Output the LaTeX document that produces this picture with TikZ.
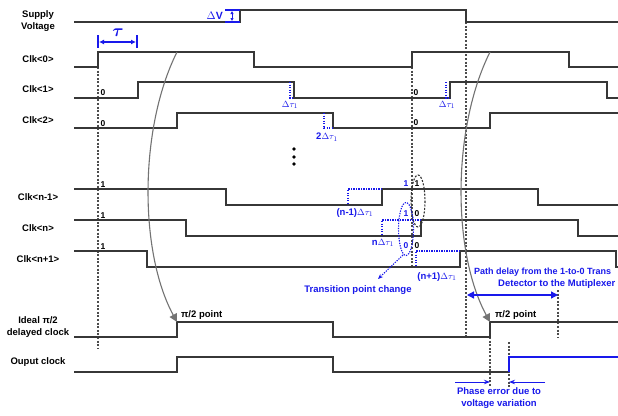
\documentclass[tikz,border=0pt]{standalone}
\usepackage{amsmath,bm}
\usepackage{fontspec}
\setmainfont{Liberation Sans}
\usetikzlibrary{arrows.meta,positioning,calc}
\definecolor{cWave}{RGB}{55,55,55}
\definecolor{cNote}{RGB}{25,25,235}
\definecolor{cCurve}{RGB}{115,115,115}
\tikzset{
  signame/.style={align=center,inner sep=0pt,
                  font=\fontsize{9.5}{11.5}\selectfont\bfseries},
  wave/.style={draw=cWave,line width=1.5pt},
  bluewave/.style={draw=cNote,line width=1.5pt},
  guide/.style={draw=black!70,line width=1.1pt,
                dash pattern=on 2pt off 1.6pt},
  bitlbl/.style={inner sep=0pt,font=\fontsize{8.5}{9}\selectfont\bfseries},
  bluebit/.style={bitlbl,text=cNote},
  shiftlbl/.style={inner sep=0pt,text=cNote,
                   font=\fontsize{9.5}{11}\selectfont\bfseries},
  shiftbox/.style={draw=cNote,line width=1.1pt,
                   dash pattern=on 1.3pt off 1.2pt},
  notetext/.style={align=center,inner sep=0pt,text=cNote,
                   font=\fontsize{9.5}{12}\selectfont\bfseries},
  pilbl/.style={anchor=west,inner sep=0pt,
                font=\fontsize{9.5}{11}\selectfont\bfseries},
  bluarr/.style={{Triangle[length=7pt,width=7pt]}-{Triangle[length=7pt,width=7pt]},
                 draw=cNote,line width=1.3pt},
  tauarr/.style={{Latex[length=5pt,width=5pt]}-{Latex[length=5pt,width=5pt]},
                 draw=cNote,line width=1.1pt},
  pharr/.style={-{Stealth[length=6pt,width=4.5pt]},draw=cNote,line width=1pt},
  curvarr/.style={-{Triangle[length=8pt,width=8pt]},draw=cCurve,line width=1.1pt}
}

\begin{document}
\begin{tikzpicture}[x=1pt,y=-1pt]
  \useasboundingbox (0,0) rectangle (618,415);
  \fill[white] (0,0) rectangle (618,415);

  % signal names
  \node[signame] (lblsupply) at (38,21) {Supply\\Voltage};
  \node[signame] (lblclk0) at (38,59) {Clk<0>};
  \node[signame] (lblclk1) at (38,89) {Clk<1>};
  \node[signame] (lblclk2) at (38,120) {Clk<2>};
  \node[signame] (lblclkm) at (38,197) {Clk<n-1>};
  \node[signame] (lblclkn) at (38,228) {Clk<n>};
  \node[signame] (lblclkp) at (38,259) {Clk<n+1>};
  \node[signame] (lblideal) at (38,327) {Ideal π/2\\delayed clock};
  \node[signame] (lblout) at (38,362) {Ouput clock};

  % guide lines
  \draw[guide] (98,67) -- (98,348);
  \draw[guide] (412,67) -- (412,267);
  \draw[guide] (466,22) -- (466,337);
  \draw[guide] (558,290) -- (558,338);
  \draw[guide] (490,337) -- (490,387);
  \draw[guide] (509,342) -- (509,387);

  % waveforms
  \draw[wave] (74,22) -- (240,22) -- (240,10) -- (466,10) -- (466,22) -- (618,22);
  \draw[wave] (74,67) -- (98,67) -- (98,52) -- (254,52) -- (254,67) -- (412,67)
              -- (412,52) -- (569,52) -- (569,67) -- (618,67);
  \draw[wave] (74,98) -- (138,98) -- (138,82) -- (294,82) -- (294,98) -- (450,98)
              -- (450,82) -- (607,82) -- (607,98) -- (618,98);
  \draw[wave] (74,128) -- (177,128) -- (177,113) -- (333,113) -- (333,128)
              -- (490,128) -- (490,113) -- (618,113);
  \draw[wave] (74,189) -- (226,189) -- (226,205) -- (382,205) -- (382,189)
              -- (538,189) -- (538,205) -- (618,205);
  \draw[wave] (74,220) -- (186,220) -- (186,236) -- (421,236) -- (421,220)
              -- (578,220) -- (578,236) -- (618,236);
  \draw[wave] (74,251) -- (147,251) -- (147,267) -- (460,267) -- (460,251)
              -- (616,251) -- (616,267) -- (618,267);
  \draw[wave] (74,337) -- (177,337) -- (177,322) -- (333,322) -- (333,337)
              -- (490,337) -- (490,322) -- (618,322);
  \draw[wave] (74,372) -- (177,372) -- (177,357) -- (333,357) -- (333,372) -- (509,372);
  \draw[bluewave] (509,372) -- (509,357) -- (618,357);

  % supply step and tau
  \draw[draw=cNote,line width=1.1pt] (225,10) -- (240,10) (225,22) -- (240,22);
  \draw[{Latex[length=3pt,width=3.5pt]}-{Latex[length=3pt,width=3.5pt]},
        draw=cNote,line width=1pt] (232,11) -- (232,21);
  \node[shiftlbl,anchor=east,font=\fontsize{10.5}{11}\selectfont\bfseries] (dv) at (223,16) {$\Delta$V};
  \draw[draw=cNote,line width=1.1pt] (98,35) -- (98,48) (137,35) -- (137,48);
  \coordinate (tauL) at (99,42);
  \coordinate (tauR) at (136,42);
  \draw[tauarr] (tauL) -- (tauR);
  \node[text=cNote,inner sep=0pt,font=\fontsize{16}{16}\selectfont] (tau) at (118,33) {$\bm{\tau}$};

  \foreach \y in {149,157,164}
    \fill (294,\y) circle (1.9);

  % bit values
  \node[bitlbl] (b1) at (103,93) {0};
  \node[bitlbl] (b2) at (103,124) {0};
  \node[bitlbl] (bm) at (103,185) {1};
  \node[bitlbl] (bn) at (103,216) {1};
  \node[bitlbl] (bp) at (103,247) {1};
  \node[bitlbl] (c1) at (416,93) {0};
  \node[bitlbl] (c2) at (416,123) {0};
  \node[bluebit] (dm) at (406,184) {1};
  \node[bitlbl] (cm) at (417,184) {1};
  \node[bluebit] (dn) at (406,214) {1};
  \node[bitlbl] (cn) at (417,214) {0};
  \node[bluebit] (dp) at (406,246) {0};
  \node[bitlbl] (cp) at (417,246) {0};

  % shifts
  \draw[shiftbox] (290,82) -- (290,98) -- (294,98);
  \draw[shiftbox] (446,82) -- (446,98) -- (450,98);
  \draw[shiftbox] (324,113) -- (324,128) -- (333,128);
  \draw[shiftbox] (382,189) -- (348,189) -- (348,205);
  \draw[shiftbox] (421,220) -- (382,220) -- (382,236);
  \draw[shiftbox] (460,251) -- (416,251) -- (416,267);
  \node[shiftlbl] (s1) at (290,105) {$\Delta\tau_1$};
  \node[shiftlbl] (s1b) at (447,105) {$\Delta\tau_1$};
  \node[shiftlbl] (s2) at (327,137) {2$\Delta\tau_1$};
  \node[shiftlbl] (sm) at (355,213) {(n-1)$\Delta\tau_1$};
  \node[shiftlbl] (sn) at (383,243) {n$\Delta\tau_1$};
  \node[shiftlbl] (sp) at (437,277) {(n+1)$\Delta\tau_1$};

  % transition point
  \draw[black!80,line width=1.1pt,dash pattern=on 2pt off 1.5pt]
    (418,201) ellipse [x radius=7,y radius=26];
  \draw[shiftbox] (406,229) ellipse [x radius=7.5,y radius=26.5];
  \node[notetext] (trans) at (358,290) {Transition point change};
  \coordinate (ellbot) at (403,255);
  \coordinate (transtip) at (378,279);
  \draw[shiftbox,-{Stealth[length=5pt,width=4pt]}] (ellbot) -- (transtip);

  % pi/2 arrows
  \coordinate (rise0a) at (177,52);
  \coordinate (rise0b) at (490,52);
  \coordinate (idealA) at (177,322);
  \coordinate (idealB) at (490,322);
  \draw[curvarr] (rise0a) .. controls (139,128) and (139,252) .. (idealA);
  \draw[curvarr] (rise0b) .. controls (452,128) and (452,252) .. (idealB);
  \node[pilbl] (piA) at (181,315) {π/2 point};
  \node[pilbl] (piB) at (495,315) {π/2 point};

  % path delay
  \node[notetext,anchor=west,font=\fontsize{9}{12}\selectfont\bfseries] (pathd) at (474,272) {Path delay from the 1-to-0 Trans};
  \node[notetext,anchor=west] (pathd2) at (498,284) {Detector to the Mutiplexer};
  \coordinate (pdL) at (467,295);
  \coordinate (pdR) at (558,295);
  \draw[bluarr] (pdL) -- (pdR);

  % phase error
  \coordinate (peL) at (455,382);
  \coordinate (peA) at (490,382);
  \coordinate (peB) at (509,382);
  \coordinate (peR) at (545,382);
  \draw[pharr] (peL) -- (peA);
  \draw[pharr] (peR) -- (peB);
  \node[notetext] (phase) at (499,398) {Phase error due to\\voltage variation};
\end{tikzpicture}
\end{document}
